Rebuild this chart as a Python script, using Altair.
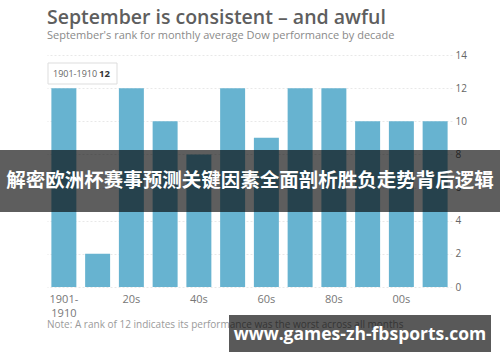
import altair as alt
import pandas as pd

decades = ["1901-1910", "1910s", "20s", "30s", "40s", "50s", "60s", "70s", "80s", "90s", "00s", "2010s"]
ranks = [12, 2, 12, 10, 8, 12, 9, 12, 12, 10, 10, 10]
y_ticks = [0, 2, 4, 6, 8, 10, 12, 14]

title_text = "September is consistent \u2013 and awful"
subtitle_text = "September's rank for monthly average Dow performance by decade"
note_text = "Note: A rank of 12 indicates its performance was the worst across all months"
tooltip_label = "1901-1910"
tooltip_value = "12"
banner_text = "解密欧洲杯赛事预测关键因素全面剖析胜负走势背后逻辑"
watermark_text = "www.games-zh-fbsports.com"

df = pd.DataFrame({"decade": decades, "rank": ranks})
one = alt.Data(values=[{}])

FONT = "Open Sans"

label_expr = (
    "datum.value == '1901-1910' ? ['1901-', '1910'] : "
    "(indexof(['20s','40s','60s','80s','00s'], datum.value) >= 0 ? datum.value : '')"
)

bars = alt.Chart(df).mark_bar(color="#67b3d0").encode(
    x=alt.X("decade:N", sort=decades,
            scale=alt.Scale(paddingInner=0.26, paddingOuter=0.13),
            axis=alt.Axis(title=None, labelExpr=label_expr, labelAngle=0,
                          labelFont=FONT, labelFontSize=11, labelColor="#777777",
                          labelPadding=6, labelLineHeight=14, domain=False, ticks=False)),
    y=alt.Y("rank:Q", scale=alt.Scale(domain=[0, 14]),
            axis=alt.Axis(title=None, orient="right", values=y_ticks,
                          labelFont=FONT, labelFontSize=10, labelColor="#666666",
                          labelPadding=3, domain=False, ticks=False,
                          gridColor="#e8e8e8", gridDash=[2, 2])),
)

def txt(text, x, y, size, color, weight="normal", align="left", font=FONT, baseline="alphabetic"):
    return alt.Chart(one).mark_text(
        text=text, align=align, baseline=baseline, font=font, fontSize=size,
        color=color, fontWeight=weight
    ).encode(x=alt.value(x), y=alt.value(y))

def rect(x, x2, y, y2, fill, opacity=1.0, stroke=None):
    kw = dict(color=fill, opacity=opacity)
    if stroke:
        kw["stroke"] = stroke
        kw["strokeWidth"] = 1
    return alt.Chart(one).mark_rect(**kw).encode(
        x=alt.value(x), x2=alt.value(x2), y=alt.value(y), y2=alt.value(y2))

title = txt(title_text, 0, -31, 19.5, "#5e5e5e", weight=600)
subtitle = txt(subtitle_text, 0, -16, 11, "#8a8a8a")
note = txt(note_text, 0, 273, 10, "#9a9a9a")

tip_box = rect(1, 70, 8, 29, "white", stroke="#dddddd")
tip_label = txt(tooltip_label, 6, 22, 9, "#666666")
tip_value = txt(tooltip_value, 52, 22, 9.5, "#333333", weight="bold")

band = rect(-47, 453, 95, 157, "black", opacity=0.63)
band_text = txt(banner_text, 203, 126, 19.5, "white", weight="bold", align="center",
                font="Noto Sans CJK SC", baseline="middle")

wm_box = rect(182, 444, 260, 297, "black", opacity=0.65)
wm_text = txt(watermark_text, 313, 285, 17.5, "white", weight="bold", align="center")

chart = alt.layer(
    bars, title, subtitle, note, tip_box, tip_label, tip_value,
    band, band_text, wm_box, wm_text
).properties(
    width=405, height=232,
    autosize=alt.AutoSizeParams(type="none"),
    padding={"left": 47, "top": 55, "right": 48, "bottom": 75},
    background="white",
).configure_view(stroke=None)

chart.save("out.html", embed_options={"renderer": "svg", "actions": False})
